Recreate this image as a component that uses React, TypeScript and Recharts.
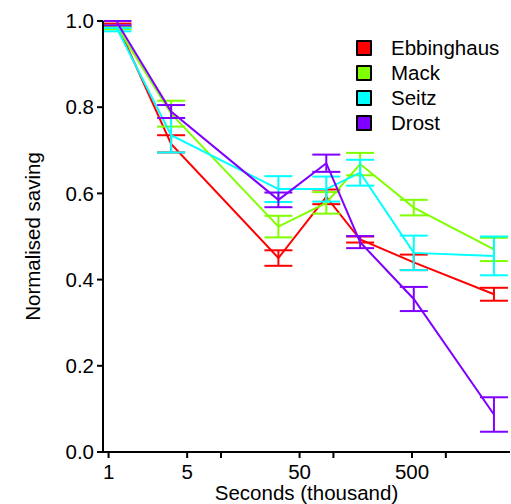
import React from 'react';
import { ComposedChart, Line, XAxis, YAxis, ErrorBar, Label } from 'recharts';

const xThousandSeconds = [1.2, 3.6, 32.4, 86.4, 172.8, 518.4, 2678.4];

const ebbinghaus = [0.99, 0.715, 0.45, 0.592, 0.493, 0.44, 0.366];
const ebbinghausErr = [0.004, 0.02, 0.018, 0.017, 0.007, 0.018, 0.015];

const mack = [0.985, 0.785, 0.523, 0.578, 0.668, 0.567, 0.47];
const mackErr = [0.004, 0.03, 0.025, 0.025, 0.026, 0.018, 0.027];

const seitz = [0.98, 0.735, 0.61, 0.61, 0.648, 0.462, 0.455];
const seitzErr = [0.004, 0.04, 0.03, 0.029, 0.03, 0.04, 0.045];

const drost = [0.995, 0.79, 0.585, 0.67, 0.487, 0.355, 0.087];
const drostErr = [0.005, 0.015, 0.017, 0.02, 0.014, 0.028, 0.04];

const xTicks = [1, 5, 10, 50, 100, 500, 1000];
const xLabelled = [1, 5, 50, 500];
const yTicks = [0, 0.2, 0.4, 0.6, 0.8, 1.0];

const FONT = '"Liberation Sans", Arial, Helvetica, sans-serif';
const FS = 20.5;

const build = (vals: number[], errs: number[]) =>
  xThousandSeconds.map((x, i) => ({ x, y: vals[i], err: errs[i] }));

const series = [
  { name: 'Ebbinghaus', color: '#ff0000', data: build(ebbinghaus, ebbinghausErr) },
  { name: 'Mack', color: '#80ff00', data: build(mack, mackErr) },
  { name: 'Seitz', color: '#00ffff', data: build(seitz, seitzErr) },
  { name: 'Drost', color: '#8000ff', data: build(drost, drostErr) },
];

const LegendBox = () => (
  <div
    style={{
      position: 'absolute',
      left: 356,
      top: 35,
      fontFamily: FONT,
      fontSize: FS,
      color: '#000',
    }}
  >
    {series.map((s) => (
      <div key={s.name} style={{ display: 'flex', alignItems: 'center', height: 25 }}>
        <div
          style={{
            width: 12,
            height: 12,
            background: s.color,
            border: '2px solid #000',
            marginRight: 19,
            borderRadius: 1,
          }}
        />
        <span style={{ lineHeight: '25px' }}>{s.name}</span>
      </div>
    ))}
  </div>
);

export default function App() {
  return (
    <div style={{ position: 'absolute', left: 0, top: 0, width: 511, height: 504, background: '#fff' }}>
      <ComposedChart
        width={511}
        height={504}
        margin={{ top: 21, right: 1, bottom: 22, left: 23 }}
      >
        <XAxis
          type="number"
          dataKey="x"
          scale="log"
          domain={[0.892, 3721]}
          allowDataOverflow
          ticks={xTicks}
          tickFormatter={(v: number) => (xLabelled.includes(v) ? String(v) : '')}
          height={30}
          tickSize={6}
          tickMargin={6}
          axisLine={{ stroke: '#000', strokeWidth: 2 }}
          tickLine={{ stroke: '#000', strokeWidth: 2 }}
          tick={{ fill: '#000', fontSize: FS, fontFamily: FONT }}
        >
          <Label
            content={(props: any) => {
              const vb = props.viewBox || {};
              return (
                <text
                  x={vb.x + vb.width / 2}
                  y={500}
                  textAnchor="middle"
                  fontSize={FS}
                  fontFamily={FONT}
                  fill="#000"
                >
                  Seconds (thousand)
                </text>
              );
            }}
          />
        </XAxis>
        <YAxis
          type="number"
          domain={[0, 1]}
          ticks={yTicks}
          tickFormatter={(v: number) => v.toFixed(1)}
          width={80}
          tickSize={6}
          tickMargin={3}
          axisLine={{ stroke: '#000', strokeWidth: 2 }}
          tickLine={{ stroke: '#000', strokeWidth: 2 }}
          tick={{ fill: '#000', fontSize: FS, fontFamily: FONT }}
        >
          <Label
            content={(props: any) => {
              const vb = props.viewBox || {};
              const cy = vb.y + vb.height / 2;
              return (
                <text
                  x={40}
                  y={cy}
                  transform={`rotate(-90, 40, ${cy})`}
                  textAnchor="middle"
                  fontSize={FS}
                  fontFamily={FONT}
                  fill="#000"
                >
                  Normalised saving
                </text>
              );
            }}
          />
        </YAxis>
        {series.map((s) => (
          <Line
            key={s.name}
            name={s.name}
            data={s.data}
            dataKey="y"
            stroke={s.color}
            strokeWidth={2}
            dot={false}
            activeDot={false}
            isAnimationActive={false}
          >
            <ErrorBar
              dataKey="err"
              direction="y"
              width={14}
              stroke={s.color}
              strokeWidth={2}
              isAnimationActive={false}
            />
          </Line>
        ))}
      </ComposedChart>
      <LegendBox />
    </div>
  );
}
